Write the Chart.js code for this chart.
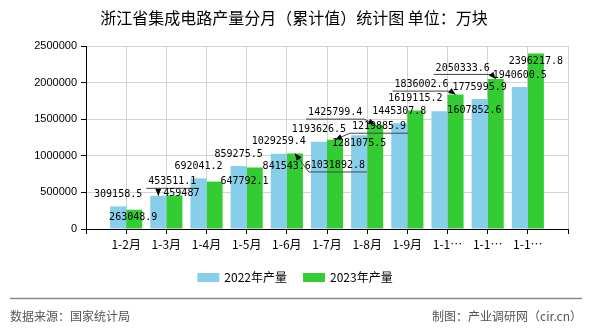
<!DOCTYPE html>
<html>
<head>
<meta charset="utf-8">
<script src="https://cdn.jsdelivr.net/npm/chart.js@4/dist/chart.umd.min.js"></script>
<style>
html,body{margin:0;padding:0;background:#fff;}
#wrap{width:590px;height:330px;position:relative;}
</style>
</head>
<body>
<div id="wrap"><canvas id="c" width="590" height="330"></canvas></div>
<script>
// ---- data ----
const categories = ['1-2月','1-3月','1-4月','1-5月','1-6月','1-7月','1-8月','1-9月','1-10月','1-11月','1-12月'];
const output2022 = [309158.5,453511.1,692041.2,859275.5,1029259.4,1193626.5,1281075.5,1445307.8,1607852.6,1775995.9,1940600.5];
const output2023 = [263048.9,459487,647792.1,841543.6,1031892.8,1219885.9,1425799.4,1619115.2,1836002.6,2050333.6,2396217.8];
const yTicks = [0,500000,1000000,1500000,2000000,2500000];
const seriesNames = ['2022年产量','2023年产量'];
const titleText = '浙江省集成电路产量分月（累计值）统计图 单位：万块';
const sourceText = '数据来源：国家统计局';
const creditText = '制图：产业调研网（cir.cn）';

// ---- label layout (displacement of value labels, as in the reference) ----
const shift2022 = [[0,0],[14,-2,1],[0,0],[0,0],[0,0],[0,0],[0,20.5],[0,0],[35,11],[0,0],[0,0]];
const shift2023 = [[-1,20],[7,10],[30,12],[32,11],[43,24,1],[44,-1,1],[-40,0,1],[0,0],[-34,2,1],[-33,1,1],[0,20]];

const colors = ['#87CEEB','#33CC33'];
const labels = ['', ...categories, ''];
const pad = arr => [null, ...arr, null];

const decor = {
  id:'decor',
  afterDatasetsDraw(chart){
    const ctx = chart.ctx;
    const shifts = [shift2022, shift2023];
    ctx.save();
    ctx.font = '10px "DejaVu Sans Mono"';
    ctx.textAlign = 'center';
    ctx.textBaseline = 'middle';
    chart.data.datasets.forEach((ds, di) => {
      const meta = chart.getDatasetMeta(di);
      meta.data.forEach((el, i) => {
        const v = ds.data[i];
        if (v === null || v === undefined) return;
        const s = shifts[di][i-1] || [0,0];
        const txt = String(v);
        const cx = el.x + s[0];
        const cy = el.y - 12 + s[1];
        ctx.fillStyle = '#000';
        ctx.fillText(txt, cx, cy);
        if (s[2]) {
          const w = ctx.measureText(txt).width;
          const x1 = cx - w/2 - 2, x2 = cx + w/2 + 2, uy = cy + 6.5;
          ctx.strokeStyle = '#444';
          ctx.lineWidth = 1;
          ctx.beginPath();
          let sx;
          if (el.x >= x1 && el.x <= x2) sx = el.x;
          else sx = Math.abs(el.x - x1) < Math.abs(el.x - x2) ? x1 : x2;
          ctx.moveTo(x1, uy); ctx.lineTo(x2, uy);
          ctx.moveTo(sx, uy); ctx.lineTo(el.x, el.y);
          ctx.stroke();
          // arrow head
          const ang = Math.atan2(el.y - uy, el.x - sx);
          const L = 7, W = 3;
          ctx.fillStyle = '#000';
          ctx.beginPath();
          ctx.moveTo(el.x, el.y);
          ctx.lineTo(el.x - L*Math.cos(ang) + W*Math.sin(ang), el.y - L*Math.sin(ang) - W*Math.cos(ang));
          ctx.lineTo(el.x - L*Math.cos(ang) - W*Math.sin(ang), el.y - L*Math.sin(ang) + W*Math.cos(ang));
          ctx.closePath();
          ctx.fill();
        }
      });
    });
    ctx.restore();
  },
  afterDraw(chart){
    const ctx = chart.ctx;
    ctx.save();
    // title
    ctx.fillStyle = '#000';
    ctx.font = '16px "Noto Sans CJK SC"';
    ctx.textAlign = 'center';
    ctx.textBaseline = 'middle';
    ctx.fillText(titleText, 294, 18);
    // legend
    ctx.font = '12px "Noto Sans CJK SC"';
    const bw = 22, bh = 9, gap = 5, itemGap = 16;
    const widths = seriesNames.map(n => ctx.measureText(n).width);
    const total = widths.reduce((a,w)=>a+bw+gap+w,0) + itemGap*(seriesNames.length-1);
    let x = 295 - total/2;
    const ly = 277.5;
    seriesNames.forEach((n, i) => {
      ctx.fillStyle = colors[i];
      ctx.fillRect(x, ly - bh/2, bw, bh);
      x += bw + gap;
      ctx.fillStyle = '#000';
      ctx.textAlign = 'left';
      ctx.fillText(n, x, ly);
      x += widths[i] + itemGap;
    });
    // footer
    ctx.strokeStyle = '#888';
    ctx.lineWidth = 1.5;
    ctx.beginPath();
    ctx.moveTo(10, 298.5); ctx.lineTo(582, 298.5);
    ctx.stroke();
    ctx.fillStyle = '#555';
    ctx.font = '12px "Noto Sans CJK SC"';
    ctx.textAlign = 'left';
    ctx.fillText(sourceText, 10, 316);
    ctx.textAlign = 'right';
    ctx.fillText(creditText, 582, 316);
    ctx.restore();
  }
};

new Chart(document.getElementById('c'), {
  type:'bar',
  data:{
    labels: labels,
    datasets:[
      {label:seriesNames[0], data:pad(output2022), backgroundColor:colors[0], categoryPercentage:0.8, barPercentage:1.0},
      {label:seriesNames[1], data:pad(output2023), backgroundColor:colors[1], categoryPercentage:0.8, barPercentage:1.0}
    ]
  },
  options:{
    responsive:false,
    devicePixelRatio:1,
    animation:false,
    layout:{padding:{left:0,right:22,top:46,bottom:0}},
    plugins:{legend:{display:false}, title:{display:false}, tooltip:{enabled:false}},
    scales:{
      x:{
        offset:false,
        grid:{offset:false, color:'#d3d3d3', tickColor:'#000', tickLength:5, drawTicks:true},
        border:{color:'#000', width:1},
        ticks:{
          autoSkip:false, maxRotation:0, color:'#000', padding:3,
          font:{family:'"Noto Sans CJK SC"', size:12},
          callback:function(v){ const l = this.getLabelForValue(v); return l.length > 4 ? l.slice(0,3) + '…' : l; }
        },
        afterFit(s){ s.height = 101; }
      },
      y:{
        min:0, max:2500000,
        afterBuildTicks(s){ s.ticks = yTicks.map(v => ({value:v})); },
        grid:{color:'#d3d3d3', tickColor:'#000', tickLength:5},
        border:{color:'#000', width:1},
        ticks:{color:'#000', padding:4, font:{family:'"Liberation Sans"', size:11}, callback:v => String(v)},
        afterFit(s){ s.width = 86; }
      }
    }
  },
  plugins:[decor]
});
</script>
</body>
</html>
